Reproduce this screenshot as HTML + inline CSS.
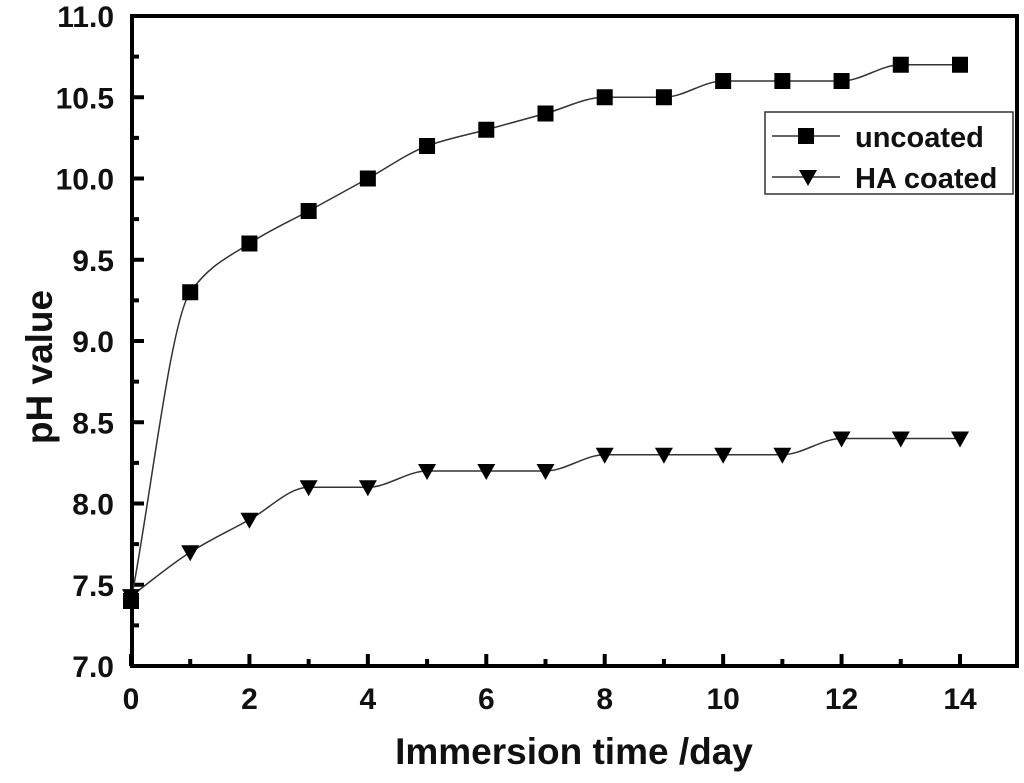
<!DOCTYPE html>
<html><head><meta charset="utf-8"><style>
body{margin:0;background:#fff}
svg text{font-family:"Liberation Sans",Arial,sans-serif;font-weight:bold;fill:#111}
</style></head><body>
<svg id="c" width="1024" height="778"></svg>
<script>
const days=[0,1,2,3,4,5,6,7,8,9,10,11,12,13,14];
const uncoated=[7.4,9.3,9.6,9.8,10.0,10.2,10.3,10.4,10.5,10.5,10.6,10.6,10.6,10.7,10.7];
const haCoated=[7.43,7.7,7.9,8.1,8.1,8.2,8.2,8.2,8.3,8.3,8.3,8.3,8.4,8.4,8.4];
const xTicks=[0,2,4,6,8,10,12,14];
const yTicks=[7.0,7.5,8.0,8.5,9.0,9.5,10.0,10.5,11.0];
const svg=document.getElementById('c');const NS='http://www.w3.org/2000/svg';
const L=132,R=1017,T=16,B=666;
const X=v=>131+v*(960-131)/14;
const Y=v=>B-(v-7)*(B-T)/4;
function el(t,a,txt){const e=document.createElementNS(NS,t);for(const k in a)e.setAttribute(k,a[k]);if(txt!=null)e.textContent=txt;svg.appendChild(e);return e;}
let f=el('rect',{x:L,y:T,width:R-L,height:B-T,fill:'none',stroke:'#000','stroke-width':4});


for(let v=0;v<=14;v++){const big=v%2==0;let t=el('line',{x1:X(v),x2:X(v),y1:B,y2:B-(big?12:7),stroke:'#000','stroke-width':4});

}
xTicks.forEach(v=>{let t=el('text',{x:X(v),y:709,'text-anchor':'middle','font-size':30},String(v));

});
for(let v=7;v<=11.001;v+=0.25){const big=Math.abs(v*2-Math.round(v*2))<1e-6;let t=el('line',{x1:L,x2:L+(big?12:7),y1:Y(v),y2:Y(v),stroke:'#000','stroke-width':4});

}
yTicks.forEach(v=>{let t=el('text',{x:114,y:Y(v)+11,'text-anchor':'end','font-size':30},v.toFixed(1));

});
let xt=el('text',{x:574,y:764,'text-anchor':'middle','font-size':37},'Immersion time /day');


let yt=el('text',{x:0,y:0,'text-anchor':'middle','font-size':37,transform:'translate(52,367) rotate(-90)'},'pH value');


function spline(vals){const p=days.map((d,i)=>[X(d),Y(vals[i])]);const n=p.length;
const s=[];for(let i=0;i<n-1;i++)s.push((p[i+1][1]-p[i][1])/(p[i+1][0]-p[i][0]));
const m=[s[0]];for(let i=1;i<n-1;i++){m.push(s[i-1]*s[i]<=0?0:2/(1/s[i-1]+1/s[i]));}m.push(s[n-2]);
let d='M'+p[0][0]+','+p[0][1];
for(let i=0;i<n-1;i++){const h=(p[i+1][0]-p[i][0])/3;
d+=' C'+(p[i][0]+h)+','+(p[i][1]+m[i]*h)+' '+(p[i+1][0]-h)+','+(p[i+1][1]-m[i+1]*h)+' '+p[i+1][0]+','+p[i+1][1];}return d;}
function sq(x,y,n){let m=el('rect',{x:x-8,y:y-8,width:16,height:16,fill:'#000'});}
function tri(x,y,n){let m=el('polygon',{points:(x-9)+','+(y-7)+' '+(x+9)+','+(y-7)+' '+x+','+(y+9),fill:'#000'});}
let l1=el('path',{d:spline(uncoated),fill:'none',stroke:'#333','stroke-width':1.5});


let l2=el('path',{d:spline(haCoated),fill:'none',stroke:'#333','stroke-width':1.5});


days.forEach((d,i)=>{sq(X(d),Y(uncoated[i]),'uncoated-point');tri(X(d),Y(haCoated[i]),'ha-coated-point');});
let lg=el('rect',{x:765,y:112,width:248,height:82,fill:'#fff',stroke:'#333','stroke-width':1.5});


el('line',{x1:772,x2:840,y1:136,y2:136,stroke:'#333','stroke-width':1.5});
sq(806,136,'legend-uncoated-marker');
el('line',{x1:772,x2:840,y1:177,y2:177,stroke:'#333','stroke-width':1.5});
tri(808,177,'legend-ha-marker');
let t1=el('text',{x:855,y:147,'font-size':29},'uncoated');


let t2=el('text',{x:855,y:188,'font-size':29},'HA coated');


</script>
</body></html>
